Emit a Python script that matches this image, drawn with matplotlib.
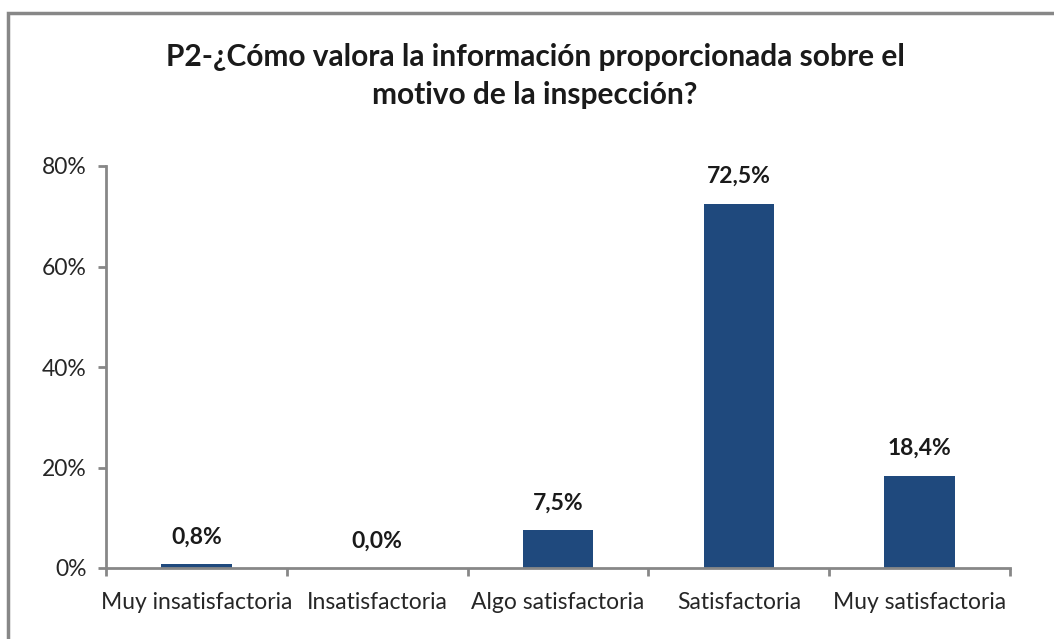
import matplotlib.pyplot as plt
from matplotlib.patches import Rectangle
import numpy as np

categories = ["Muy insatisfactoria", "Insatisfactoria", "Algo satisfactoria",
              "Satisfactoria", "Muy satisfactoria"]
values = [0.8, 0.0, 7.5, 72.5, 18.4]
yticks = [0, 20, 40, 60, 80]
title = "P2-¿Cómo valora la información proporcionada sobre el\nmotivo de la inspección?"

plt.rcParams['font.family'] = ['Lato', 'DejaVu Sans']

fig = plt.figure(figsize=(10.54, 6.39), dpi=100)
ax = fig.add_axes([106/1054, 1-568/639, (1010-106)/1054, (568-166)/639])

x = np.arange(len(categories))
ax.bar(x, values, width=0.39, color='#1F497D')
for xi, v in zip(x, values):
    ax.text(xi, v + 3.3, f"{v:.1f}%".replace('.', ','), ha='center', va='bottom',
            fontsize=16.5, fontweight='bold', color='#1a1a1a')

ax.set_xlim(-0.5, len(categories) - 0.5)
ax.set_ylim(0, 80)
ax.set_yticks(yticks)
ax.set_yticklabels([f"{t}%" for t in yticks], fontsize=16.5, color='#262626')
ax.set_xticks(x)
ax.set_xticklabels(categories, fontsize=16.5, color='#262626')
ax.tick_params(axis='x', length=0, pad=17)
ax.set_xticks(np.arange(-0.5, len(categories)), minor=True)
ax.tick_params(axis='x', which='minor', length=6, width=2, color='#878787', direction='out')
ax.tick_params(axis='y', length=6, width=2, color='#878787', direction='out', pad=8)

for s in ['top', 'right']:
    ax.spines[s].set_visible(False)
for s in ['left', 'bottom']:
    ax.spines[s].set_color('#878787')
    ax.spines[s].set_linewidth(2)

fig.text(535/1054, 1-76/639, title, ha='center', va='center', fontsize=21.5,
         fontweight='bold', color='#1a1a1a', linespacing=1.45)

fig.patches.append(Rectangle((8/1054, -0.1), 1.2, 1-13/639 + 0.1, transform=fig.transFigure,
                             fill=False, edgecolor='#878787', linewidth=2.5))

fig.savefig('out.png', dpi=100)
